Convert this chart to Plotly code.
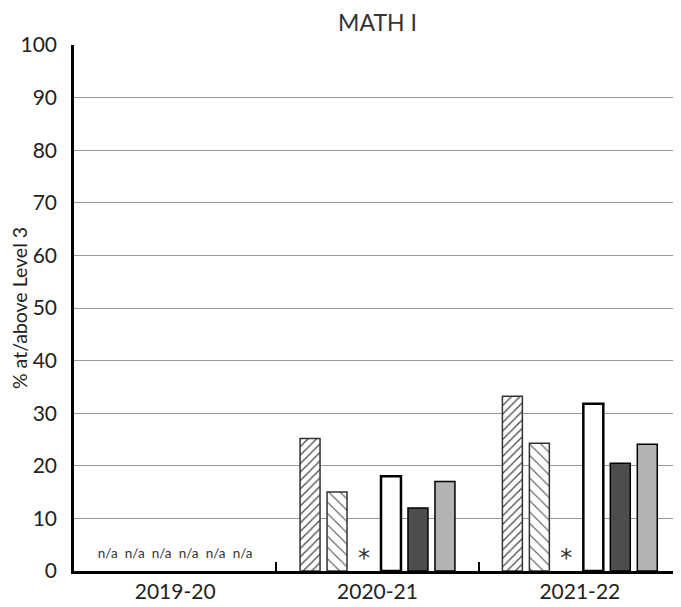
import plotly.graph_objects as go

categories = ["2019-20", "2020-21", "2021-22"]
series_names = ["Group A", "Group B", "Group C", "Group D", "Group E", "Group F"]
# None = n/a ; "*" = suppressed
values = [
    [None, 25.2, 33.2],
    [None, 15.0, 24.3],
    [None, "*", "*"],
    [None, 18.0, 31.8],
    [None, 12.0, 20.5],
    [None, 17.0, 24.1],
]
y_ticks = list(range(0, 101, 10))

NA_H = 7     # height (axis units) of the invisible holder for n/a labels
STAR_H = 5   # height (axis units) of the invisible holder for * labels
FONT = "Lato, sans-serif"

styles = [
    dict(fill="white", shape="/", fg="#222222", size=6, sol=0.2, lc="#333333", lw=1.5),
    dict(fill="white", shape="\\", fg="#666666", size=8, sol=0.12, lc="#333333", lw=1.5),
    dict(fill="white", shape="", fg="#000000", size=8, sol=0.2, lc="black", lw=1),
    dict(fill="white", shape="", fg="#000000", size=8, sol=0.2, lc="black", lw=2.5),
    dict(fill="#4d4d4d", shape="", fg="#000000", size=8, sol=0.2, lc="black", lw=1.5),
    dict(fill="#b3b3b3", shape="", fg="#000000", size=8, sol=0.2, lc="black", lw=1.5),
]

fig = go.Figure()
for name, vals, st in zip(series_names, values, styles):
    ys, texts, colors, shapes, lws, tpos, tsize, tfam = [], [], [], [], [], [], [], []
    for v in vals:
        if v is None or v == "*":
            ys.append(NA_H if v is None else STAR_H)
            texts.append("n/a" if v is None else "*")
            colors.append("rgba(0,0,0,0)")
            shapes.append("")
            lws.append(0)
            tpos.append("inside")
            tsize.append(13.5 if v is None else 24)
            tfam.append(FONT if v is None else "DejaVu Sans")
        else:
            ys.append(v)
            texts.append("")
            colors.append(st["fill"])
            shapes.append(st["shape"])
            lws.append(st["lw"])
            tpos.append("none")
            tsize.append(12)
            tfam.append(FONT)
    fig.add_trace(go.Bar(
        x=categories, y=ys, name=name,
        marker=dict(color=colors, line=dict(color=st["lc"], width=lws),
                    pattern=dict(shape=shapes, fgcolor=st["fg"], fgopacity=1,
                                 size=st["size"], solidity=st["sol"])),
        text=texts, textposition=tpos, insidetextanchor="middle",
        constraintext="none", textangle=0, cliponaxis=False,
        insidetextfont=dict(size=tsize, color="#333333", family=tfam),
        hoverinfo="skip",
    ))

# page body has an 8px margin, so the figure is sized to the remaining area
fig.update_layout(
    width=673, height=599,
    margin=dict(l=66, r=0, t=37, b=36),
    paper_bgcolor="white", plot_bgcolor="white",
    barmode="group", bargap=0.2, bargroupgap=0.26,
    showlegend=False,
    font=dict(family=FONT, color="#222222"),
    title=dict(text="MATH I", x=0.5, xref="paper", xanchor="center",
               y=0.975, yref="container", yanchor="middle",
               font=dict(size=23, color="#333333")),
)
fig.update_xaxes(
    showline=True, linecolor="black", linewidth=2.5, automargin=False,
    ticks="inside", tickson="boundaries", ticklen=9, tickwidth=2, tickcolor="black",
    tickfont=dict(size=21, color="#222222"), showgrid=False,
)
fig.update_yaxes(
    range=[0, 100], tickvals=y_ticks, showline=True, linecolor="black", linewidth=2.5,
    showgrid=True, gridcolor="#999999", gridwidth=1, zeroline=False, automargin=False,
    tickfont=dict(size=21, color="#222222"), ticks="", ticklabelstandoff=10,
    title=dict(text="% at/above Level 3", font=dict(size=19.5, color="#222222"), standoff=3),
)
fig.write_html("out.html")
